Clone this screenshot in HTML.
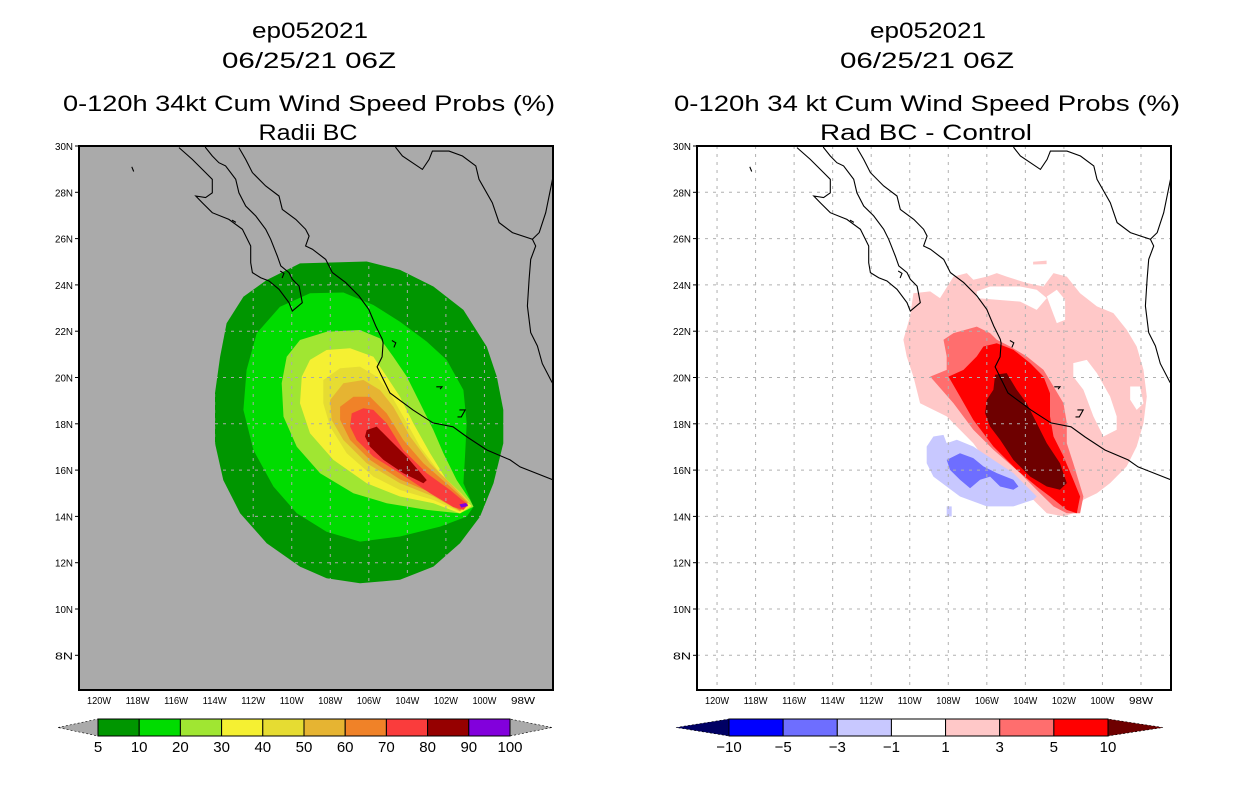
<!DOCTYPE html>
<html><head><meta charset="utf-8"><style>
html,body{margin:0;padding:0;background:#fff;}
svg{display:block;font-family:"Liberation Sans",sans-serif;}
</style></head><body>
<svg id="root" width="1236" height="800" viewBox="0 0 1236 800" xmlns="http://www.w3.org/2000/svg"></svg>
<script>
// ---- data ----
const lonTicks = [-120,-118,-116,-114,-112,-110,-108,-106,-104,-102,-100,-98];
const latTicks = [30,28,26,24,22,20,18,16,14,12,10,8];
const leftLevels = ['5','10','20','30','40','50','60','70','80','90','100'];
const leftColors = ['#009600','#00dc00','#a0e632','#f5f032','#e6dc32','#e6b432','#f08228','#fa3c3c','#960000','#8200dc'];
const rightLevels = ['\u221210','\u22125','\u22123','\u22121','1','3','5','10'];
const rightColors = ['#0000ff','#6e6eff','#c8c8ff','#ffffff','#ffc8c8','#ff6e6e','#ff0000'];
const prob5 = [[-109.57,24.93],[-106.11,25.01],[-104.38,24.65],[-102.65,23.93],[-101.09,22.92],[-99.88,21.33],[-99.36,20.04],[-99.02,18.6],[-99.02,17.16],[-99.53,15.43],[-100.23,13.99],[-101.27,12.84],[-102.65,11.83],[-104.38,11.26],[-106.46,11.11],[-108.19,11.33],[-109.57,11.83],[-111.3,12.84],[-112.68,14.14],[-113.55,15.57],[-113.98,17.16],[-113.98,19.32],[-113.72,20.9],[-113.38,22.34],[-112.51,23.49],[-111.3,24.21]];
const prob10 = [[-110.61,23.06],[-109.05,23.64],[-107.32,23.67],[-105.76,23.13],[-104.38,22.41],[-102.99,21.55],[-101.96,20.76],[-101.09,19.46],[-100.92,18.02],[-101.01,16.58],[-101.09,15.43],[-100.57,14.42],[-100.92,13.99],[-102.3,13.56],[-104.38,13.13],[-106.46,12.91],[-108.19,13.34],[-109.74,14.14],[-110.95,15.29],[-111.99,16.87],[-112.51,18.6],[-112.34,20.33],[-111.82,21.91]];
const prob20 = [[-109.57,21.62],[-108.19,21.98],[-106.46,22.05],[-105.42,21.69],[-104.73,20.9],[-104.03,20.04],[-103.34,18.89],[-102.65,17.73],[-102.13,16.73],[-101.44,15.57],[-100.75,14.71],[-100.57,14.42],[-101.27,14.13],[-102.99,14.28],[-105.07,14.57],[-106.8,15.0],[-108.53,15.86],[-109.74,17.01],[-110.43,18.31],[-110.52,19.75],[-110.26,20.9]];
const prob30 = [[-109.05,20.76],[-108.19,21.19],[-106.97,21.26],[-105.76,20.9],[-105.07,20.04],[-104.38,19.17],[-103.69,18.02],[-102.82,16.73],[-101.96,15.57],[-101.09,14.78],[-100.66,14.45],[-101.27,14.13],[-102.65,14.57],[-104.38,14.86],[-106.11,15.43],[-107.84,16.44],[-109.05,17.59],[-109.57,18.89],[-109.48,20.04]];
const prob40 = [[-108.36,19.89],[-107.49,20.4],[-106.46,20.47],[-105.59,20.04],[-104.9,19.32],[-104.21,18.31],[-103.34,17.01],[-102.3,15.86],[-101.2,15.0],[-100.75,14.6],[-101.27,14.2],[-102.65,14.71],[-104.38,15.14],[-105.76,15.72],[-107.15,16.73],[-108.01,17.88],[-108.36,18.89]];
const prob50 = [[-108.01,19.03],[-107.32,19.75],[-106.28,19.89],[-105.42,19.46],[-104.73,18.74],[-103.86,17.45],[-102.82,16.3],[-101.61,15.29],[-100.82,14.6],[-101.27,14.22],[-102.65,14.86],[-104.38,15.43],[-106.11,16.3],[-107.32,17.3],[-107.93,18.17]];
const prob60 = [[-107.49,18.74],[-106.8,19.17],[-105.94,19.17],[-105.07,18.45],[-104.21,17.3],[-103.17,16.3],[-101.78,15.29],[-100.88,14.6],[-101.27,14.25],[-102.65,14.98],[-104.38,15.6],[-105.94,16.44],[-106.97,17.3],[-107.49,18.17]];
const prob70 = [[-106.89,18.45],[-106.28,18.67],[-105.76,18.6],[-105.07,18.02],[-104.21,16.87],[-102.99,15.86],[-101.78,15.14],[-101.27,14.78],[-100.85,14.5],[-101.09,14.28],[-101.61,14.4],[-102.82,15.0],[-104.38,15.86],[-105.76,16.58],[-106.63,17.3],[-106.97,17.88]];
const prob80 = [[-106.11,17.73],[-105.59,17.88],[-104.9,17.3],[-104.03,16.58],[-102.99,15.57],[-103.17,15.43],[-104.21,15.86],[-105.24,16.44],[-105.94,17.01],[-106.2,17.45]];
const prob90 = [[-101.3,14.52],[-100.95,14.58],[-100.85,14.45],[-101.2,14.38]];
const diff1 = [[-109.81,23.64],[-108.94,23.72],[-108.43,23.43],[-107.73,24.36],[-107.04,24.51],[-106.7,24.22],[-106.0,24.36],[-105.48,24.51],[-104.97,24.36],[-103.93,24.08],[-103.06,23.93],[-102.54,24.51],[-101.85,24.36],[-101.16,23.64],[-100.29,23.07],[-99.43,22.78],[-98.74,22.06],[-98.22,21.34],[-97.87,20.33],[-97.7,19.18],[-97.87,18.03],[-98.22,17.02],[-98.74,16.16],[-99.6,15.44],[-100.29,15.0],[-100.99,14.72],[-101.51,14.14],[-102.02,14.0],[-102.89,14.14],[-103.41,14.57],[-104.27,15.29],[-105.83,16.16],[-106.7,17.16],[-108.08,18.32],[-109.46,18.89],[-109.81,20.04],[-110.16,20.91],[-110.33,21.63],[-109.98,22.64]];
const diff1b = [[-103.6,25.0],[-102.9,25.05],[-102.9,24.9],[-103.6,24.88]];
const hole1 = [[-106.52,23.72],[-105.83,23.93],[-104.27,23.93],[-103.41,23.79],[-102.89,23.43],[-103.41,22.92],[-104.27,23.28],[-105.48,23.36],[-106.52,23.43]];
const hole2 = [[-101.51,20.62],[-100.81,20.76],[-100.29,20.19],[-99.6,19.18],[-99.26,18.32],[-99.26,17.74],[-99.95,17.45],[-100.47,18.32],[-100.99,19.47],[-101.51,20.04]];
const hole3 = [[-102.89,23.5],[-102.37,23.79],[-101.94,23.36],[-101.94,22.49],[-102.37,22.35],[-102.63,22.92]];
const hole4 = [[-98.56,19.61],[-98.05,19.61],[-97.87,18.89],[-98.22,18.6],[-98.56,19.04]];
const diff3 = [[-108.25,21.63],[-107.73,21.92],[-106.52,22.2],[-105.83,21.92],[-105.48,21.63],[-104.79,21.34],[-103.93,20.91],[-103.06,20.33],[-102.54,19.61],[-102.02,18.89],[-101.85,18.03],[-101.85,17.16],[-101.51,16.3],[-100.99,14.86],[-101.16,14.14],[-101.85,14.14],[-102.54,14.43],[-103.24,15.0],[-104.27,15.87],[-105.66,16.88],[-106.7,17.74],[-107.73,18.89],[-108.94,20.04],[-108.08,20.33],[-108.08,20.91]];
const diff5 = [[-107.99,20.04],[-107.21,20.33],[-106.52,20.91],[-106.18,21.34],[-105.48,21.48],[-104.62,21.2],[-103.75,20.62],[-103.06,20.04],[-102.72,19.32],[-102.72,18.32],[-102.54,17.45],[-102.02,16.59],[-101.51,15.58],[-101.16,14.86],[-101.33,14.14],[-101.85,14.28],[-102.72,14.86],[-103.41,15.29],[-104.45,16.01],[-105.66,17.02],[-106.7,18.17],[-107.39,19.18]];
const diff10 = [[-105.57,20.12],[-104.97,20.19],[-104.45,19.47],[-103.93,18.89],[-103.41,18.03],[-102.89,17.16],[-102.2,16.3],[-101.85,15.44],[-102.2,15.15],[-102.89,15.29],[-103.75,15.72],[-104.62,16.44],[-105.31,17.31],[-105.83,17.88],[-106.09,18.46],[-106.0,19.04],[-105.66,19.47]];
const diffm1 = [[-109.12,17.02],[-108.77,17.45],[-108.25,17.52],[-108.08,17.16],[-107.56,17.31],[-106.7,17.02],[-105.66,16.44],[-104.62,15.87],[-103.93,15.29],[-103.41,14.86],[-103.58,14.72],[-104.62,14.43],[-106.0,14.43],[-107.39,14.86],[-108.77,15.72],[-109.12,16.3]];
const diffm1b = [[-108.08,14.43],[-107.82,14.43],[-107.82,14.0],[-108.08,14.0]];
const diffm3 = [[-108.08,16.44],[-107.39,16.73],[-106.7,16.52],[-106.18,16.16],[-105.48,15.87],[-104.62,15.58],[-104.36,15.29],[-104.62,15.15],[-105.31,15.29],[-105.83,15.72],[-106.35,15.58],[-106.87,15.22],[-107.39,15.58],[-107.91,16.01]];
// basemap coastlines (lon, lat)
const coastBaja = [[-115.85,29.93],[-115.16,29.42],[-114.47,28.85],[-114.12,28.56],[-114.12,27.98],[-114.47,27.77],[-114.98,27.84],[-114.64,27.55],[-114.12,27.12],[-113.26,26.83],[-112.56,26.4],[-112.13,25.68],[-112.13,24.96],[-112.04,24.53],[-111.61,24.31],[-111.18,24.17],[-110.66,23.81],[-110.14,23.23],[-109.97,22.87],[-109.45,23.23],[-109.62,23.95],[-109.97,24.24],[-110.14,24.53],[-110.57,24.82],[-110.75,25.25],[-111.09,25.97],[-111.35,26.4],[-111.87,26.98],[-112.39,27.41],[-112.74,27.98],[-112.91,28.56],[-113.43,29.14],[-113.78,29.28],[-114.12,29.57],[-114.47,29.93],[-114.6,30.3]];
const coastMain = [[-112.74,29.93],[-112.39,29.42],[-112.04,28.85],[-111.35,28.27],[-110.66,27.84],[-110.49,27.26],[-109.79,26.83],[-109.28,26.4],[-109.1,26.11],[-109.28,25.68],[-108.93,25.54],[-108.24,25.1],[-107.89,24.53],[-107.2,24.1],[-106.51,23.52],[-106.0,22.94],[-105.64,22.22],[-105.3,21.65],[-105.26,21.49],[-105.31,20.89],[-105.57,20.46],[-104.9,19.33],[-103.71,18.6],[-102.67,18.04],[-101.63,17.87],[-100.9,17.43],[-99.87,16.87],[-98.67,16.44],[-98.15,16.14],[-96.44,15.58],[-95.5,15.4]];
const coastGulf = [[-104.6,30.2],[-104.6,29.93],[-104.26,29.57],[-103.22,28.99],[-102.87,29.42],[-102.7,29.78],[-101.84,29.78],[-101.14,29.57],[-100.45,29.14],[-100.28,28.56],[-99.59,27.55],[-99.24,26.69],[-98.55,26.26],[-97.51,25.97],[-97.16,26.26],[-96.82,27.12],[-96.47,28.56],[-96.3,28.9]];
const coastEast = [[-97.51,25.97],[-97.34,25.68],[-97.6,25.1],[-97.68,24.24],[-97.77,23.09],[-97.6,21.94],[-97.25,21.36],[-97.0,20.6],[-96.5,19.8],[-96.0,19.2]];
const islands = [[[-110.6,24.6],[-110.4,24.5],[-110.5,24.3]],[[-104.8,21.6],[-104.6,21.5],[-104.7,21.3]],[[-102.5,19.6],[-102.2,19.6],[-102.3,19.5]],[[-101.3,18.6],[-101.0,18.6],[-101.2,18.3],[-101.4,18.3]],[[-118.3,29.1],[-118.2,28.9]],[[-113.1,26.8],[-112.9,26.7]]];

// ---- axis functions ----
const W0 = -121.04, LON_PX = 19.27, LAT_PX = 23.15;
function xS(lon, ox){ return ox + (lon - W0) * LON_PX; }
function yS(lat){ return 146 + (30 - lat) * LAT_PX; }

const NS = 'http://www.w3.org/2000/svg';
const root = document.getElementById('root');
function mk(tag, attrs, parent){
  const e = document.createElementNS(NS, tag);
  for (const k in attrs) e.setAttribute(k, attrs[k]);
  (parent || root).appendChild(e);
  return e;
}
function pts(arr, ox){ return arr.map(p => xS(p[0], ox).toFixed(1) + ',' + yS(p[1]).toFixed(1)).join(' '); }

function txt(x, y, s, size, anchor, len, parent){
  const t = mk('text', {x:x, y:y, 'font-size':size, 'text-anchor':anchor||'middle', fill:'#000'}, parent);
  if (len){ t.setAttribute('textLength', len); t.setAttribute('lengthAdjust','spacingAndGlyphs'); }
  t.textContent = s;
  return t;
}

function panel(ox, bg, gridColor, name, titles, fills){
  const g = mk('g', {});
  
  
  const clipId = 'clip' + ox;
  const cp = mk('clipPath', {id: clipId}, g);
  mk('rect', {x:ox, y:146, width:474, height:544}, cp);
  const bgr = mk('rect', {x:ox, y:146, width:474, height:544, fill:bg}, g);
  
  
  const inner = mk('g', {'clip-path':'url(#' + clipId + ')'}, g);
  fills.forEach(f => {
    const p = mk('polygon', {points: pts(f.d, ox), fill: f.c}, inner);
    
    
  });
  lonTicks.forEach(lon => {
    const l = mk('line', {x1:xS(lon,ox), x2:xS(lon,ox), y1:146, y2:690, stroke:gridColor, 'stroke-width':1, 'stroke-dasharray':'3,5'}, inner);
    
    
  });
  latTicks.forEach(lat => {
    const l = mk('line', {x1:ox, x2:ox+474, y1:yS(lat), y2:yS(lat), stroke:gridColor, 'stroke-width':1, 'stroke-dasharray':'3,5'}, inner);
    
    
  });
  [coastBaja, coastMain, coastGulf, coastEast].concat(islands).forEach(c => {
    const l = mk('polyline', {points: pts(c, ox), fill:'none', stroke:'#000', 'stroke-width':1.1}, inner);
    
    
  });
  const fr = mk('rect', {x:ox, y:146, width:474, height:544, fill:'none', stroke:'#000', 'stroke-width':2}, g);
  
  
  lonTicks.forEach(lon => {
    const t = txt(xS(lon,ox), 704, (-lon) + 'W', 10, 'middle', 24, g);
    
    
  });
  latTicks.forEach(lat => {
    mk('line', {x1:ox-4, x2:ox, y1:yS(lat), y2:yS(lat), stroke:'#000', 'stroke-width':1}, g);
    const t = txt(ox-6, yS(lat)+4, lat + 'N', 10, 'end', 18, g);
    
    
  });
  titles.forEach(tt => {
    const t = txt(tt[0], tt[1], tt[2], 22, 'middle', tt[3], g);
    
    
  });
}

panel(79, '#aaaaaa', '#aaaaaa', 'left-probability-map', [
  [310, 38, 'ep052021', 116, 'storm-id-title'],
  [309, 68, '06/25/21 06Z', 174, 'date-title'],
  [309, 111, '0-120h 34kt Cum Wind Speed Probs (%)', 492, 'main-title'],
  [308, 140, 'Radii BC', 99, 'subtitle']
], [
  {d:prob5, c:leftColors[0], n:'contour-5'},
  {d:prob10, c:leftColors[1], n:'contour-10'},
  {d:prob20, c:leftColors[2], n:'contour-20'},
  {d:prob30, c:leftColors[3], n:'contour-30'},
  {d:prob40, c:leftColors[4], n:'contour-40'},
  {d:prob50, c:leftColors[5], n:'contour-50'},
  {d:prob60, c:leftColors[6], n:'contour-60'},
  {d:prob70, c:leftColors[7], n:'contour-70'},
  {d:prob80, c:leftColors[8], n:'contour-80'},
  {d:prob90, c:leftColors[9], n:'contour-90'}
]);

panel(697, '#ffffff', '#b0b0b0', 'right-difference-map', [
  [928, 38, 'ep052021', 116, 'storm-id-title'],
  [927, 68, '06/25/21 06Z', 174, 'date-title'],
  [927, 111, '0-120h 34 kt Cum Wind Speed Probs (%)', 506, 'main-title'],
  [926, 140, 'Rad BC - Control', 212, 'subtitle']
], [
  {d:diff1, c:rightColors[4], n:'diff-1-3'},
  {d:diff1b, c:rightColors[4], n:'diff-1-3-patch'},
  {d:hole1, c:'#ffffff', n:'diff-neutral-1'},
  {d:hole2, c:'#ffffff', n:'diff-neutral-2'},
  {d:hole3, c:'#ffffff', n:'diff-neutral-3'},
  {d:hole4, c:'#ffffff', n:'diff-neutral-4'},
  {d:diff3, c:rightColors[5], n:'diff-3-5'},
  {d:diff5, c:rightColors[6], n:'diff-5-10'},
  {d:diff10, c:'#6e0000', n:'diff-above-10'},
  {d:diffm1, c:rightColors[2], n:'diff-neg-1-3'},
  {d:diffm1b, c:rightColors[2], n:'diff-neg-1-3-patch'},
  {d:diffm3, c:rightColors[1], n:'diff-neg-3-5'}
]);

// ---- colorbars ----
function colorbar(x0, x1, tipL, tipR, colors, labels, endL, endR, name){
  const g = mk('g', {});
  
  
  const y0 = 719, y1 = 736, ym = 727.5;
  const n = colors.length, w = (x1 - x0) / n;
  mk('polygon', {points: `${tipL},${ym} ${x0},${y0} ${x0},${y1}`, fill:endL, stroke:'#000', 'stroke-width':0.6, 'stroke-dasharray':'2,2'}, g);
  mk('polygon', {points: `${tipR},${ym} ${x1},${y0} ${x1},${y1}`, fill:endR, stroke:'#000', 'stroke-width':0.6, 'stroke-dasharray':'2,2'}, g);
  colors.forEach((c, i) => {
    const r = mk('rect', {x:x0 + i*w, y:y0, width:w, height:y1-y0, fill:c, stroke:'#000', 'stroke-width':1}, g);
    
    
  });
  labels.forEach((s, i) => {
    const t = txt(x0 + i*w, 752, s, 15, 'middle', null, g);
    
    
  });
}
colorbar(98, 510, 58, 552, leftColors, leftLevels, '#aaaaaa', '#aaaaaa', 'left-colorbar');
colorbar(729, 1108, 676, 1163, rightColors, rightLevels, '#000064', '#6e0000', 'right-colorbar');
</script>
</body></html>
